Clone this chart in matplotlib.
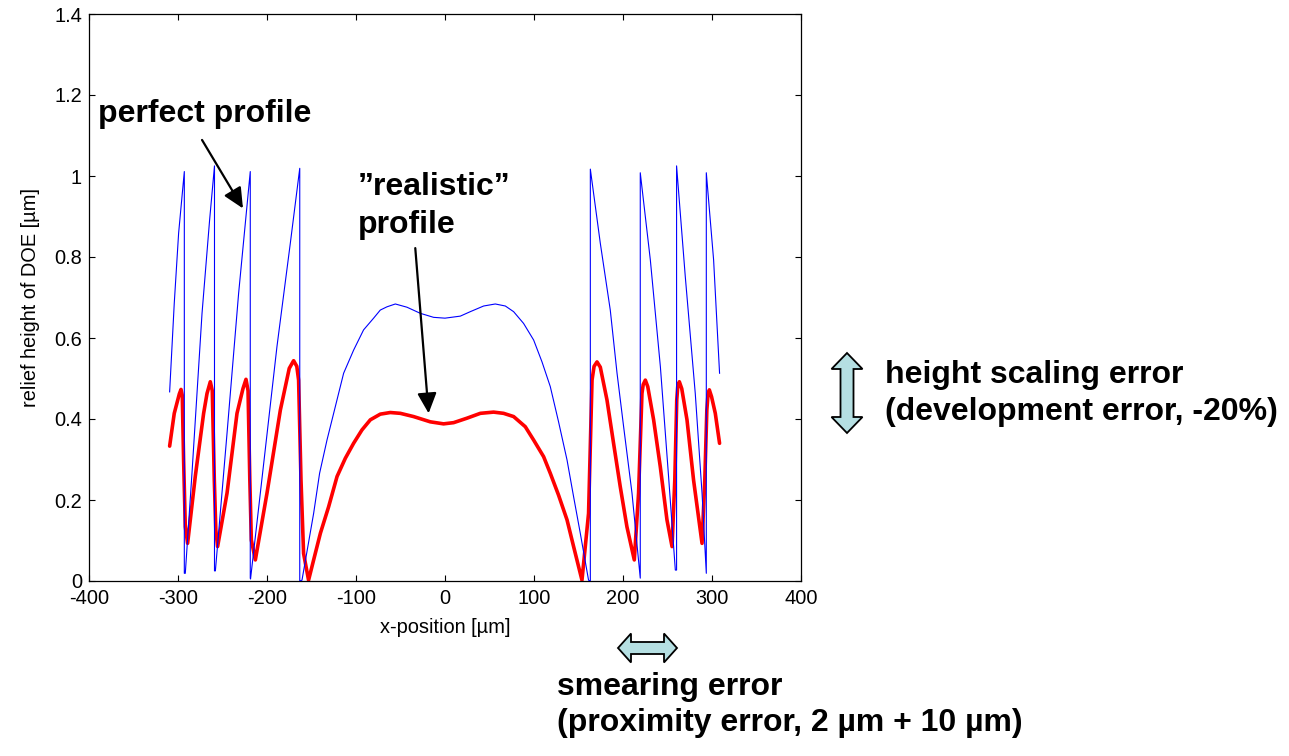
import matplotlib
matplotlib.use("Agg")
import matplotlib.pyplot as plt
from matplotlib.patches import Polygon

plt.rcParams["font.family"] = ["Liberation Sans", "DejaVu Sans"]

# "perfect profile" (blue)
perfect_x = [-309.4, -304.2, -299.3, -292.9, -292.9,
             -291.8, -284.3, -273.0, -264.5, -259.0, -259.0,
             -258.0, -244.9, -231.9, -218.8, -218.8,
             -218.5, -207.5, -188.8, -173.8, -163.2, -163.2,
             -160.7, -147.6, -140.9, -132.6, -123.3, -113.9, -102.7, -91.5,
             -80.2, -72.7, -65.2, -55.8, -42.7, -27.8, -12.8, 0.0,
             17.2, 28.4, 43.4, 56.5, 67.8, 77.1, 88.3, 99.6, 109.0, 118.3,
             127.6, 137.1, 144.5, 152.0, 161.3, 163.3, 163.3,
             174.5, 185.7, 193.3, 200.7, 210.1, 219.4, 219.4,
             230.7, 242.0, 251.2, 258.8, 260.2, 260.2,
             270.0, 281.2, 288.8, 293.6, 293.6,
             301.8, 308.5]
perfect_y = [0.467, 0.686, 0.859, 1.011, 0.019,
             0.019, 0.266, 0.661, 0.891, 1.025, 0.025,
             0.025, 0.365, 0.710, 1.011, 0.007,
             0.005, 0.217, 0.579, 0.834, 1.019, 0.0,
             0.002, 0.167, 0.266, 0.348, 0.430, 0.513, 0.570, 0.620,
             0.649, 0.669, 0.677, 0.684, 0.676, 0.661, 0.651, 0.649,
             0.654, 0.665, 0.679, 0.684, 0.679, 0.665, 0.636, 0.595, 0.541, 0.480,
             0.393, 0.299, 0.208, 0.118, 0.002, 0.0, 1.017,
             0.834, 0.669, 0.513, 0.381, 0.217, 0.007, 1.008,
             0.793, 0.529, 0.258, 0.027, 0.027, 1.025,
             0.751, 0.463, 0.217, 0.019, 1.008,
             0.793, 0.513]

# "realistic" profile (red)
real_x = [-309.4, -304.2, -298.5, -296.6, -295.2, -293.7, -291.8, -289.2,
          -280.6, -271.2, -267.4, -263.7, -261.5, -259.2, -257.5, -255.5,
          -244.9, -233.7, -227.0, -223.6, -221.3, -219.3, -217.6, -213.1,
          -200.0, -185.0, -175.0, -170.1, -166.5, -164.5, -161.8, -158.9, -153.3,
          -147.6, -140.0, -130.8, -121.3, -112.0, -102.7, -93.3, -83.9, -72.7,
          -61.5, -50.2, -35.3, -16.5, -1.6, 9.7, 24.7, 39.7, 54.6, 65.8,
          77.1, 90.2, 99.6, 110.8, 118.3, 127.6, 137.1, 144.5, 153.9,
          161.3, 165.2, 167.5, 170.8, 174.5, 182.0, 189.4, 196.9, 204.4, 212.7,
          217.5, 221.3, 222.7, 225.1, 227.8, 234.4, 241.9, 249.4, 255.1,
          258.2, 260.4, 261.5, 263.3, 266.0, 271.9, 279.3, 288.8,
          291.9, 294.2, 295.5, 297.0, 299.5, 303.7, 308.5]
real_y = [0.333, 0.414, 0.462, 0.473, 0.458, 0.299, 0.134, 0.093,
          0.258, 0.414, 0.463, 0.492, 0.470, 0.249, 0.126, 0.085,
          0.217, 0.414, 0.475, 0.498, 0.470, 0.249, 0.101, 0.052,
          0.217, 0.422, 0.525, 0.544, 0.530, 0.496, 0.249, 0.068, 0.002,
          0.052, 0.118, 0.183, 0.258, 0.303, 0.340, 0.373, 0.398, 0.412,
          0.416, 0.414, 0.406, 0.393, 0.388, 0.391, 0.402, 0.414, 0.417, 0.414,
          0.406, 0.381, 0.348, 0.307, 0.266, 0.212, 0.151, 0.085, 0.002,
          0.167, 0.496, 0.530, 0.541, 0.528, 0.447, 0.340, 0.233, 0.134, 0.052,
          0.217, 0.463, 0.485, 0.496, 0.480, 0.398, 0.282, 0.151, 0.085,
          0.249, 0.447, 0.480, 0.492, 0.475, 0.398, 0.249, 0.093,
          0.249, 0.422, 0.460, 0.472, 0.455, 0.414, 0.340]

xticks = [-400, -300, -200, -100, 0, 100, 200, 300, 400]
yticks = [0, 0.2, 0.4, 0.6, 0.8, 1.0, 1.2, 1.4]
ytick_labels = ["0", "0.2", "0.4", "0.6", "0.8", "1", "1.2", "1.4"]

W, H = 1289, 756
fig = plt.figure(figsize=(W / 100, H / 100), dpi=100)
ax = fig.add_axes([89 / W, 1 - 581 / H, (801 - 89) / W, (581 - 14) / H])

ax.plot(real_x, real_y, color="#ff0000", lw=2.6, zorder=2,
        solid_joinstyle="round", solid_capstyle="round")
ax.plot(perfect_x, perfect_y, color="#0000ff", lw=0.8, zorder=3)

ax.set_xlim(-400, 400)
ax.set_ylim(0, 1.4)
ax.set_xticks(xticks)
ax.set_xticklabels([str(t) for t in xticks])
ax.set_yticks(yticks)
ax.set_yticklabels(ytick_labels)
ax.tick_params(direction="in", length=4, width=0.8, labelsize=14.4,
               top=True, right=True)
ax.tick_params(axis="x", pad=6)
ax.tick_params(axis="y", pad=5)
for s in ax.spines.values():
    s.set_linewidth(0.9)
ax.set_xlabel("x-position [µm]", fontsize=14.4, labelpad=7)
ax.set_ylabel("relief height of DOE [µm]", fontsize=14.4, labelpad=10)

# pointer arrows
arrow_kw = dict(arrowstyle="-|>,head_length=0.95,head_width=0.45",
                color="black", lw=1.6, mutation_scale=13, shrinkA=0, shrinkB=0)
ax.annotate("", xy=(-227, 0.92), xytext=(-273, 1.089), arrowprops=arrow_kw,
            annotation_clip=False)
ax.annotate("", xy=(-18.4, 0.414), xytext=(-33.4, 0.822), arrowprops=arrow_kw,
            annotation_clip=False)


def ftext(x, y, s):
    fig.text(x / W, 1 - y / H, s, fontsize=23, fontweight="bold",
             ha="left", va="baseline")


ftext(98, 122, "perfect profile")
ftext(358, 195, "\u201drealistic\u201d")
ftext(358, 233, "profile")
ftext(885, 383, "height scaling error")
ftext(885, 420, "(development error, -20%)")
ftext(557, 695, "smearing error")
ftext(557, 731, "(proximity error, 2 µm + 10 µm)")


def block_arrow(cx, cy, length, head_w, shaft_w, head_l, vertical):
    half = length / 2
    pts = [(0, -half), (head_w, -half + head_l), (shaft_w, -half + head_l),
           (shaft_w, half - head_l), (head_w, half - head_l), (0, half),
           (-head_w, half - head_l), (-shaft_w, half - head_l),
           (-shaft_w, -half + head_l), (-head_w, -half + head_l)]
    if vertical:
        verts = [((cx + a) / W, 1 - (cy + b) / H) for a, b in pts]
    else:
        verts = [((cx + b) / W, 1 - (cy + a) / H) for a, b in pts]
    fig.patches.append(Polygon(verts, closed=True, transform=fig.transFigure,
                               facecolor="#b5dfe2", edgecolor="black", lw=1.3))


block_arrow(847, 393, 80, 15.5, 6.5, 16, vertical=True)
block_arrow(647.5, 648, 59, 14.5, 6, 13, vertical=False)

fig.savefig("out.png", dpi=100)
